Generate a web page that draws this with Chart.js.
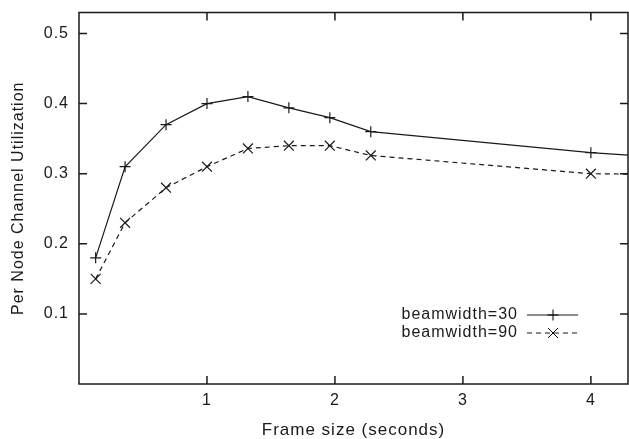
<!DOCTYPE html>
<html>
<head>
<meta charset="utf-8">
<script src="https://cdn.jsdelivr.net/npm/chart.js@4.4.1/dist/chart.umd.min.js"></script>
<style>
  html, body { margin: 0; padding: 0; background: #fff; }
  canvas { display: block; }
</style>
</head>
<body>
<canvas id="myChart" width="629" height="439"></canvas>
<script>
// values
const frameSizes = [0.13, 0.36, 0.68, 1.0, 1.32, 1.64, 1.96, 2.28, 4.0, 5.0];
const beam30 = [0.18, 0.31, 0.37, 0.40, 0.41, 0.394, 0.38, 0.36, 0.33, 0.318];
const beam90 = [0.15, 0.23, 0.28, 0.31, 0.336, 0.34, 0.34, 0.326, 0.30, 0.298];
const seriesNames = ['beamwidth=30', 'beamwidth=90'];
const xTicks = [1, 2, 3, 4];
const yTicks = [0.1, 0.2, 0.3, 0.4, 0.5];

const ink = '#1a1a1a';
const fontFamily = "'Liberation Sans', Arial, Helvetica, sans-serif";

const toPoints = (ys) => frameSizes.map((x, i) => ({ x: x, y: ys[i] }));

// gnuplot style box with inward ticks on all sides
const framePlugin = {
    id: 'frame',
    beforeLayout(chart) { chart.ctx.letterSpacing = '1px'; },
    beforeDraw(chart) { chart.ctx.letterSpacing = '1px'; },
    afterDatasetsDraw(chart) {
        const { ctx, chartArea: a, scales } = chart;
        ctx.save();
        ctx.strokeStyle = ink;
        ctx.lineWidth = 1.5;
        ctx.strokeRect(a.left, a.top, a.right - a.left, a.bottom - a.top);
        ctx.beginPath();
        xTicks.forEach((v) => {
            const px = scales.x.getPixelForValue(v);
            ctx.moveTo(px, a.bottom); ctx.lineTo(px, a.bottom - 8);
            ctx.moveTo(px, a.top); ctx.lineTo(px, a.top + 8);
        });
        yTicks.forEach((v) => {
            const py = scales.y.getPixelForValue(v);
            ctx.moveTo(a.left, py); ctx.lineTo(a.left + 8, py);
            ctx.moveTo(a.right, py); ctx.lineTo(a.right - 8, py);
        });
        ctx.stroke();
        ctx.restore();
    }
};

// legend inside the plot: text right aligned, then line sample with marker
const keyPlugin = {
    id: 'key',
    afterDraw(chart) {
        const { ctx, chartArea: a } = chart;
        const textRight = a.right - 111;
        ctx.save();
        ctx.font = '16px ' + fontFamily;
        ctx.letterSpacing = '1px';
        ctx.fillStyle = ink;
        ctx.textAlign = 'right';
        ctx.textBaseline = 'middle';
        chart.data.datasets.forEach((ds, i) => {
            const y = a.bottom - 69 + i * 18;
            ctx.fillText(ds.label, textRight + 1, y);
            ctx.save();
            ctx.strokeStyle = ds.borderColor;
            ctx.lineWidth = ds.borderWidth;
            ctx.setLineDash(ds.borderDash || []);
            ctx.beginPath();
            ctx.moveTo(textRight + 10, y);
            ctx.lineTo(textRight + 61, y);
            ctx.stroke();
            ctx.restore();
            Chart.helpers.drawPoint(ctx, {
                pointStyle: ds.pointStyle,
                radius: ds.pointRadius,
                borderWidth: ds.pointBorderWidth,
                rotation: 0
            }, textRight + 36, y);
        });
        ctx.restore();
    }
};

const data = {
    datasets: [
        {
            label: seriesNames[0],
            data: toPoints(beam30),
            borderColor: ink,
            borderWidth: 1.2,
            pointStyle: 'cross',
            pointRadius: 5.5,
            pointBorderWidth: 1.2,
            pointBorderColor: ink,
            pointBackgroundColor: ink,
            fill: false,
            tension: 0
        },
        {
            label: seriesNames[1],
            data: toPoints(beam90),
            borderColor: ink,
            borderWidth: 1.2,
            borderDash: [5, 4],
            pointStyle: 'crossRot',
            pointRadius: 7,
            pointBorderWidth: 1.2,
            pointBorderColor: ink,
            pointBackgroundColor: ink,
            fill: false,
            tension: 0
        }
    ]
};

const config = {
    type: 'line',
    data: data,
    options: {
        responsive: false,
        animation: false,
        layout: { autoPadding: false, padding: { left: 0, top: 12.5, right: 1, bottom: 0 } },
        plugins: {
            legend: { display: false },
            tooltip: { enabled: false }
        },
        scales: {
            x: {
                type: 'linear',
                min: 0,
                max: 4.29,
                afterBuildTicks: (s) => { s.ticks = xTicks.map((v) => ({ value: v })); },
                afterFit: (s) => { s.paddingLeft = 0; s.paddingRight = 0; s.height = 55; },
                grid: { display: false, drawTicks: false },
                border: { display: false },
                ticks: { color: ink, font: { family: fontFamily, size: 16 }, padding: 7, maxRotation: 0 },
                title: {
                    display: true,
                    text: 'Frame size (seconds)',
                    color: ink,
                    font: { family: fontFamily, size: 17 },
                    padding: { top: 0, bottom: -2 }
                }
            },
            y: {
                min: 0,
                max: 0.53,
                afterBuildTicks: (s) => { s.ticks = yTicks.map((v) => ({ value: v })); },
                afterFit: (s) => { s.paddingTop = 0; s.paddingBottom = 0; s.width = 79; },
                grid: { display: false, drawTicks: false },
                border: { display: false },
                ticks: { color: ink, font: { family: fontFamily, size: 16 }, padding: 10 },
                title: {
                    display: true,
                    text: 'Per Node Channel Utilization',
                    color: ink,
                    font: { family: fontFamily, size: 16 },
                    padding: { top: 9, bottom: 0 }
                }
            }
        }
    },
    plugins: [framePlugin, keyPlugin]
};

const ctx = document.getElementById('myChart').getContext('2d');
const myChart = new Chart(ctx, config);
</script>
</body>
</html>
